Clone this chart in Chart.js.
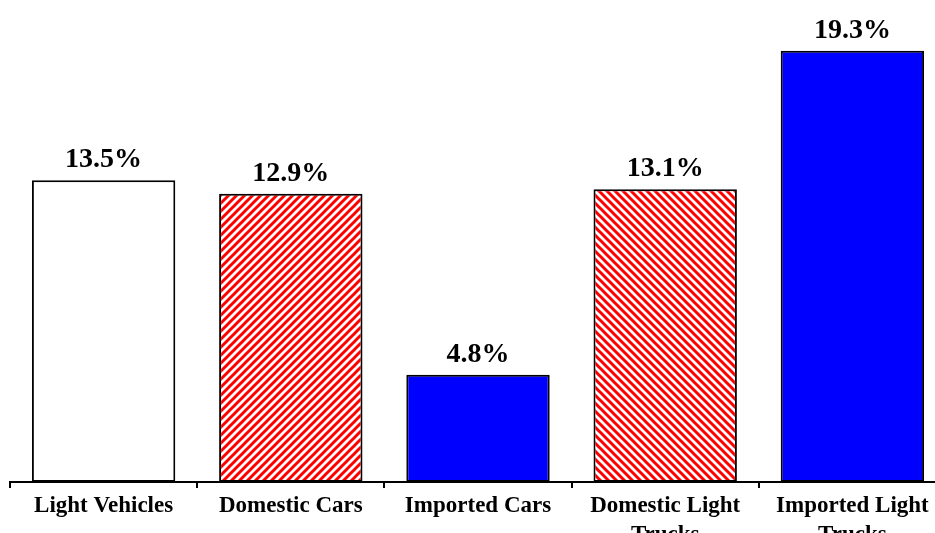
<!DOCTYPE html>
<html lang="en">
<head>
    <meta charset="UTF-8">
    <title>Light vehicle change</title>
    <style>
        html, body { margin: 0; padding: 0; background: #fff; overflow: hidden; }
        .wrap { position: relative; width: 960px; height: 560px; }
    </style>
    <script src="https://cdn.jsdelivr.net/npm/chart.js"></script>
</head>
<body>
    <div class="wrap">
        <canvas id="chart"></canvas>
    </div>
    <script>
        const categories = ['Light Vehicles', 'Domestic Cars', 'Imported Cars', ['Domestic Light', 'Trucks'], ['Imported Light', 'Trucks']];
        const values = [13.5, 12.9, 4.8, 13.1, 19.3];
        const fills = ['white', 'hatchUp', 'blue', 'hatchDown', 'blue'];

        // red diagonal stripes on white
        function hatch(dir) {
            const s = 8;
            const c = document.createElement('canvas');
            c.width = s; c.height = s;
            const g = c.getContext('2d');
            g.fillStyle = '#fff';
            g.fillRect(0, 0, s, s);
            g.strokeStyle = '#ff0000';
            g.lineWidth = 3;
            g.beginPath();
            if (dir === 'up') {
                g.moveTo(-1, 1); g.lineTo(1, -1);
                g.moveTo(0, s); g.lineTo(s, 0);
                g.moveTo(s - 1, s + 1); g.lineTo(s + 1, s - 1);
            } else {
                g.moveTo(-1, s - 1); g.lineTo(1, s + 1);
                g.moveTo(0, 0); g.lineTo(s, s);
                g.moveTo(s - 1, -1); g.lineTo(s + 1, 1);
            }
            g.stroke();
            return g.createPattern(c, 'repeat');
        }
        const colourMap = { white: '#ffffff', blue: '#0000ff', hatchUp: hatch('up'), hatchDown: hatch('down') };

        const valueLabels = {
            id: 'valueLabels',
            afterDatasetsDraw(chart) {
                const ctx = chart.ctx;
                const meta = chart.getDatasetMeta(0);
                ctx.save();
                ctx.font = 'bold 28px "Liberation Serif", "Times New Roman", serif';
                ctx.fillStyle = '#000';
                ctx.textAlign = 'center';
                ctx.textBaseline = 'alphabetic';
                meta.data.forEach((bar, i) => {
                    ctx.fillText(values[i].toFixed(1) + '%', bar.x, bar.y - 13);
                });
                ctx.restore();
            }
        };

        new Chart(document.getElementById('chart'), {
            type: 'bar',
            data: {
                labels: categories,
                datasets: [{
                    data: values,
                    backgroundColor: fills.map(f => colourMap[f]),
                    borderColor: '#000',
                    borderWidth: 2,
                    borderSkipped: false,
                    categoryPercentage: 1,
                    barPercentage: 0.766
                }]
            },
            options: {
                responsive: true,
                maintainAspectRatio: false,
                animation: false,
                layout: { padding: { top: 35, left: 10, right: 14, bottom: 6 } },
                plugins: { legend: { display: false }, tooltip: { enabled: false } },
                scales: {
                    y: { display: false, min: 0, max: 20 },
                    x: {
                        border: { display: true, color: '#000', width: 2 },
                        grid: { offset: true, drawOnChartArea: false, drawTicks: true, tickLength: 6, color: '#000', lineWidth: 2 },
                        ticks: {
                            color: '#000',
                            padding: 4,
                            maxRotation: 0,
                            autoSkip: false,
                            font: { family: '"Liberation Serif", "Times New Roman", serif', size: 23, weight: 'bold', lineHeight: 1.26 }
                        }
                    }
                }
            },
            plugins: [valueLabels]
        });
    </script>
</body>
</html>
